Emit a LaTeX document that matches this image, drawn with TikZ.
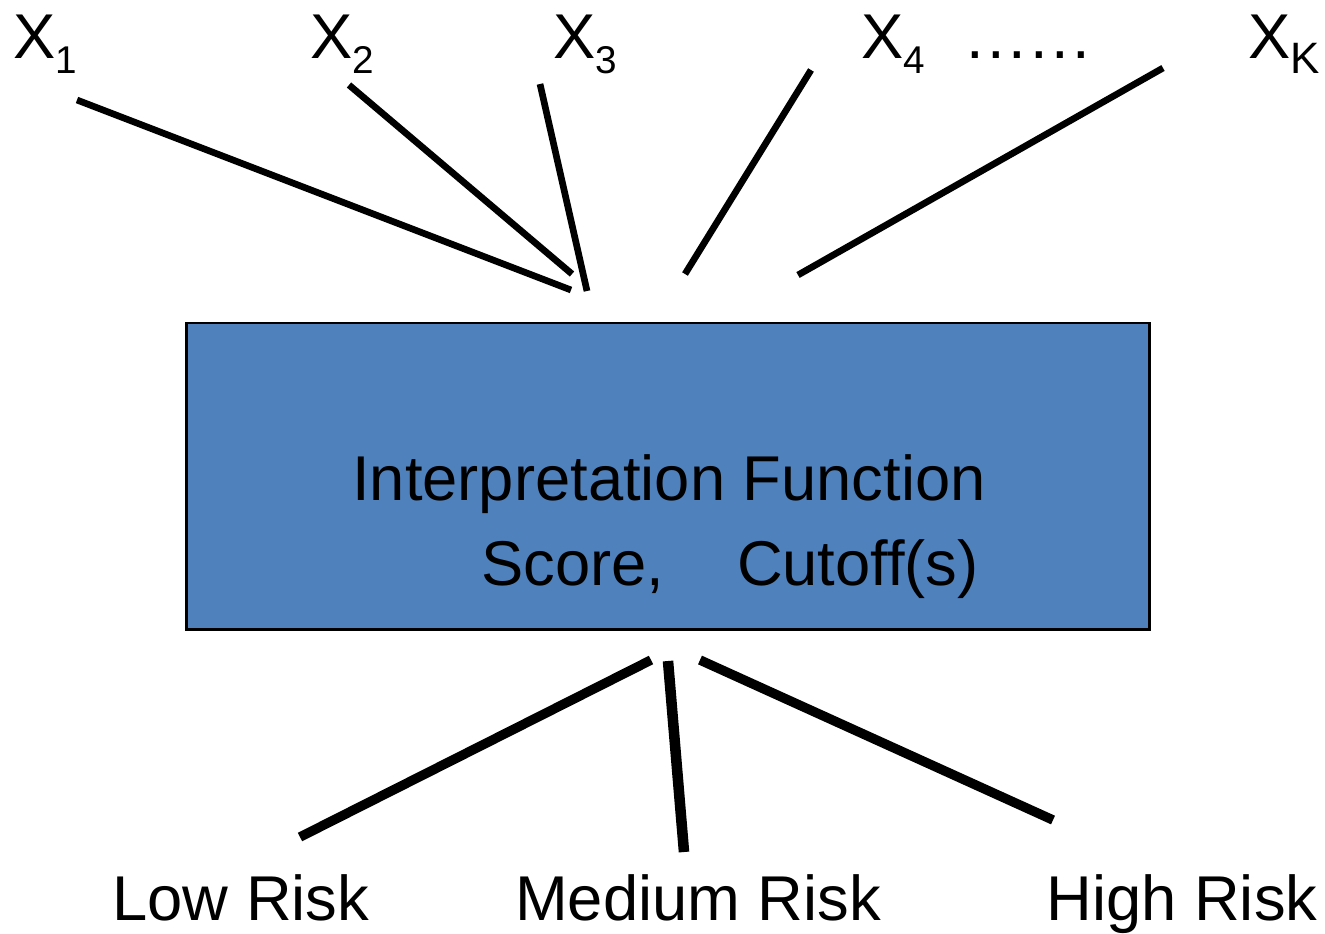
\documentclass[tikz,border=0pt]{standalone}
\usepackage{fontspec}
\setmainfont{Liberation Sans}
\usetikzlibrary{positioning}
\definecolor{boxblue}{RGB}{79,129,189}

% variable with subscript
\newcommand{\xvar}[2][11]{X\raisebox{-4.3pt}{\fontsize{#1}{#1}\selectfont #2}}

\begin{document}
\begin{tikzpicture}[x=0.01cm, y=-0.01cm,
  every node/.style={font=\fontsize{18}{22}\selectfont, inner sep=0pt},
  lab/.style={anchor=base west},
  feed/.style={line width=1.9pt},
  risk/.style={line width=2.7pt}]
  \useasboundingbox (0,0) rectangle (1325,933);

  % Inputs
  \node[lab] (x1) at (13,58) {\xvar{1}};
  \node[lab] (x2) at (310,58) {\xvar{2}};
  \node[lab] (x3) at (553,58) {\xvar{3}};
  \node[lab] (x4) at (861,58) {\xvar{4}};
  \node[lab] (dots) at (966,58) {.\kern1pt.\kern1pt.\kern1pt.\kern1pt.\kern1pt.};
  \node[lab] (xk) at (1248,58) {\xvar[12.5]{K}};

  % Interpretation box
  \node[draw, line width=0.8pt, fill=boxblue, minimum width=9.62cm, minimum height=3.06cm] (interp) at (668,476) {};
  \node[anchor=base] (title) at (669,500) {Interpretation Function};
  \node[anchor=base] (score) at (730,585) {Score,\hspace{20.7pt}Cutoff(s)};

  % Input lines
  \foreach \n/\ax/\ay/\bx/\by in {1/77/100/571/290, 2/349/85/572/274, 3/540/84/587/291, 4/811/70/685/274, 5/1163/68/798/275} {
    \coordinate (in\n) at (\ax,\ay);
    \coordinate (out\n) at (\bx,\by);
    \draw[feed] (in\n) -- (out\n);
  }

  % Risk classes
  \node[anchor=base] (low) at (241,920) {Low Risk};
  \node[anchor=base] (med) at (698,920) {Medium Risk};
  \node[anchor=base] (high) at (1182,920) {High Risk};

  \coordinate (lowtop) at (651,660);
  \coordinate (lowend) at (300,837);
  \coordinate (medtop) at (668,661);
  \coordinate (medend) at (684,852);
  \coordinate (hightop) at (700,660);
  \coordinate (highend) at (1053,820);
  \draw[risk] (lowtop) -- (lowend);
  \draw[risk, line width=3pt] (medtop) -- (medend);
  \draw[risk] (hightop) -- (highend);
\end{tikzpicture}
\end{document}
